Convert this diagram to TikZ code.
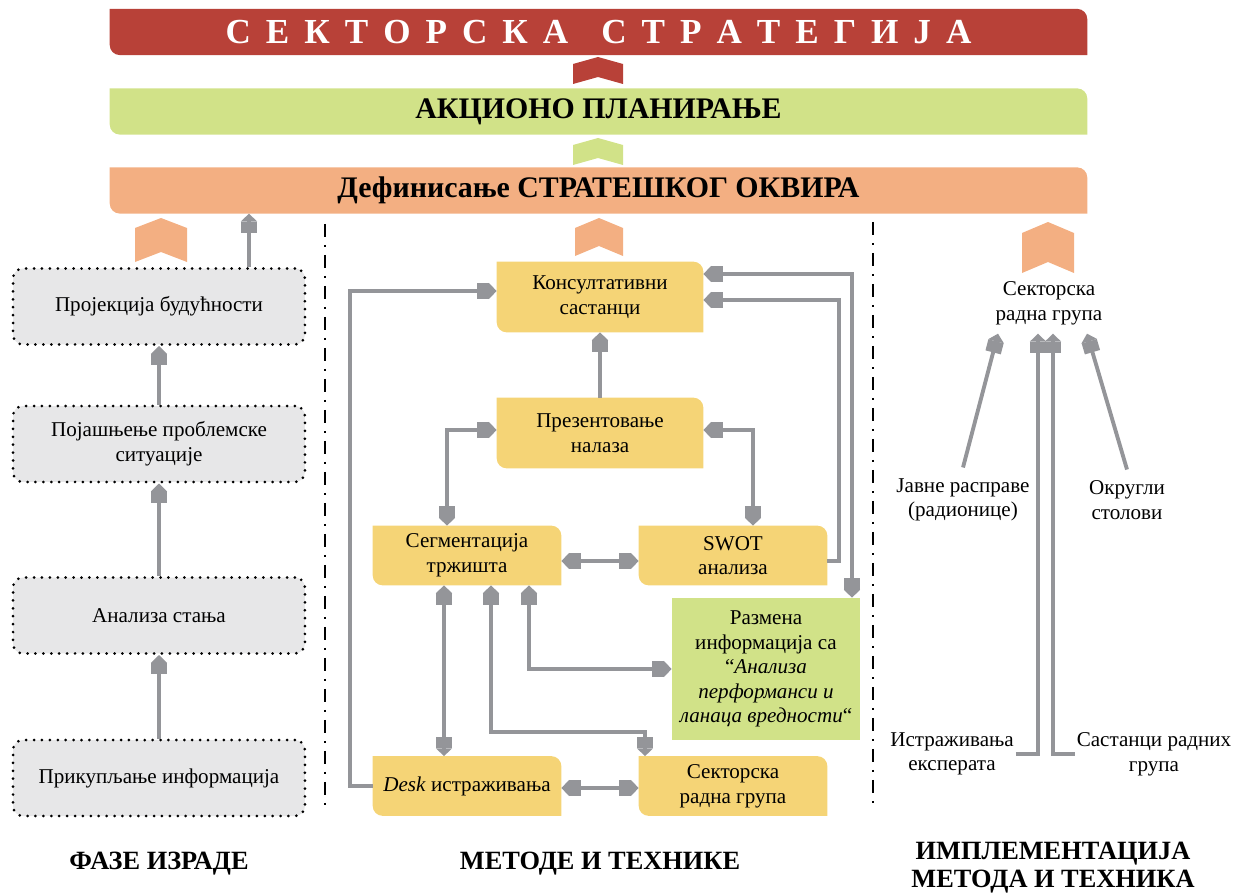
\documentclass[tikz,border=0pt]{standalone}
\usepackage{fontspec}
\setmainfont{Liberation Serif}
\usetikzlibrary{arrows.meta,calc,positioning}
\pgfdeclarelayer{background}
\pgfsetlayers{background,main}

\definecolor{stratred}{RGB}{184,65,56}
\definecolor{plangreen}{RGB}{209,226,136}
\definecolor{frameorange}{RGB}{243,175,130}
\definecolor{methyellow}{RGB}{245,212,118}
\definecolor{phasegray}{RGB}{231,231,232}
\definecolor{arrgray}{RGB}{148,149,153}

\newcommand{\lsp}{\hspace{0.3cm}}
% chevron: centre x, bottom y, half width, height, rise, colour
\newcommand{\chev}[6]{%
  \fill[#6] (#1-#3,#2) -- (#1-#3,#2+#4-#5) -- (#1,#2+#4) -- (#1+#3,#2+#4-#5)
    -- (#1+#3,#2) -- (#1,#2+#5) -- cycle;}
% leaf shaped fill behind a node
\newcommand{\leaffill}[2]{%
  \begin{pgfonlayer}{background}
  \fill[#2] (#1.north west) -- (#1.north) [rounded corners=0.2cm] -- (#1.north east)
    -- (#1.east) [sharp corners] -- (#1.south east) -- (#1.south) [rounded corners=0.2cm]
    -- (#1.south west) -- (#1.west) [sharp corners] -- cycle;
  \end{pgfonlayer}}

\tikzset{
  bar/.style={minimum width=19.54cm, minimum height=0.91cm, inner sep=0pt,
    font=\fontsize{17}{20}\selectfont\bfseries},
  phase/.style={draw=black, fill=phasegray, line width=1.7pt,
    dash pattern=on 0pt off 4.5pt, line cap=round, rounded corners=0.2cm,
    minimum width=5.84cm, minimum height=1.52cm, align=center,
    font=\fontsize{12}{14}\selectfont},
  method/.style={minimum height=1.18cm, inner sep=0pt, align=center,
    font=\fontsize{12}{14}\selectfont},
  lbl/.style={align=center, inner sep=1pt, font=\fontsize{12}{14}\selectfont},
  head/.style={align=center, font=\fontsize{15}{16}\selectfont\bfseries},
  arr/.style={color=arrgray, line width=2.2pt,
    -{Square[length=6.5pt,width=9pt]Triangle[length=4.5pt,width=9pt]}},
  arrboth/.style={arr,
    {Triangle[length=4.5pt,width=9pt]Square[length=6.5pt,width=9pt]}-{Square[length=6.5pt,width=9pt]Triangle[length=4.5pt,width=9pt]}},
  divider/.style={line width=1.6pt, dash pattern=on 0.26cm off 0.16cm on 0.04cm off 0.16cm},
}

\begin{document}
\begin{tikzpicture}[x=0.02cm,y=0.02cm]
    \useasboundingbox (0,0) rectangle (1237,894);

    % bars
    \node[bar, text=white, font=\fontsize{20}{22}\selectfont\bfseries] (strat) at (598.5,862)
      {С\lsp Е\lsp К\lsp Т\lsp О\lsp Р\lsp С\lsp К\lsp А\hspace{0.66cm}С\lsp Т\lsp Р\lsp А\lsp Т\lsp Е\lsp Г\lsp И\lsp Ј\lsp А};
    \node[bar] (akc) at (598.5,782.5) {АКЦИОНО ПЛАНИРАЊЕ};
    \node[bar] (okvir) at (598.5,703.5) {Дефинисање СТРАТЕШКОГ ОКВИРА};
    \leaffill{strat}{stratred}
    \leaffill{akc}{plangreen}
    \leaffill{okvir}{frameorange}

    \chev{598}{810}{25}{27}{7}{stratred}
    \chev{598}{729}{25}{27}{7}{plangreen}
    \chev{161}{632}{26}{44}{10}{frameorange}
    \chev{599}{638}{24}{38}{10}{frameorange}
    \chev{1048}{621}{26}{51}{11}{frameorange}

    \draw[divider] (325,670) -- (325,84);
    \draw[divider] (873,672) -- (873,84);

    % phases
    \node[phase] (proj) at (159,587.5) {Пројекција будућности};
    \node[phase] (pojas) at (159,450) {Појашњење проблемске\\ситуације};
    \node[phase] (anal) at (159,278.5) {Анализа стања};
    \node[phase] (prik) at (159,116) {Прикупљање информација};
    \draw[arr] (prik) -- (anal);
    \draw[arr] (anal) -- (pojas);
    \draw[arr] (pojas) -- (proj);
    \draw[arr] ([xshift=1.8cm]proj.north) -- ([xshift=1.8cm]proj.north |- okvir.south);

    % methods
    \node[method, minimum width=4.12cm, minimum height=1.4cm] (kons) at (600,597) {Консултативни\\састанци};
    \node[method, minimum width=4.12cm, minimum height=1.4cm] (prez) at (600,461) {Презентовање\\налаза};
    \node[method, minimum width=3.76cm] (segm) at (467,338.5) {Сегментација\\тржишта};
    \node[method, minimum width=3.76cm] (swot) at (733,338.5) {SWOT\\анализа};
    \node[method, fill=plangreen, minimum width=3.76cm, minimum height=2.84cm] (razm) at (766,225)
      {Размена\\информација са\\“\textit{Анализа}\\\textit{перформанси и}\\\textit{ланаца вредности}“};
    \node[method, minimum width=3.76cm] (desk) at (467,108) {\textit{Desk} истраживања};
    \node[method, minimum width=3.76cm] (srgm) at (733,108) {Секторска\\радна група};
    \foreach \n in {kons,prez,segm,swot,desk,srgm} {\leaffill{\n}{methyellow}}

    \draw[arr] (prez) -- (kons);
    \draw[arr] (desk.west) -- ++(-23,0) |- ([yshift=0.12cm]kons.west);
    \draw[arrboth] ([yshift=0.06cm]prez.west) -| ([xshift=-0.4cm]segm.north);
    \draw[arrboth] ([yshift=0.06cm]prez.east) -| ([xshift=0.4cm]swot.north);
    \draw[arrboth] ([yshift=-0.11cm]segm.east) -- ([yshift=-0.11cm]swot.west);
    \draw[arrboth] ([yshift=0.46cm]kons.east) -| ([xshift=1.72cm]razm.north);
    \draw[arr] ([yshift=-0.11cm]swot.east) -- ++(12,0) |- ([yshift=-0.06cm]kons.east);
    \draw[arrboth] ([xshift=-0.46cm]segm.south) -- ([xshift=-0.46cm]segm.south |- desk.north);
    \draw[arrboth] ([xshift=0.48cm]segm.south) -- ++(0,-147) -| ([xshift=-1.76cm]srgm.north);
    \draw[arrboth] ([xshift=1.24cm]segm.south) |- (razm.west);
    \draw[arrboth] ([yshift=-0.04cm]desk.east) -- ([yshift=-0.04cm]srgm.west);

    % implementation
    \node[lbl] (srgr) at (1049,591) {Секторска\\радна група};
    \node[lbl] (javne) at (963,394) {Јавне расправе\\(радионице)};
    \node[lbl] (okr) at (1127,394) {Округли\\столови};
    \node[lbl] (istr) at (952,140) {Истраживања\\експерата};
    \node[lbl] (sast) at (1154,140) {Састанци радних\\група};
    \draw[arr] ([yshift=0.18cm]javne.north) -- ([xshift=-1.02cm,yshift=-0.14cm]srgr.south);
    \draw[arr] ([yshift=0.18cm]okr.north) -- ([xshift=0.76cm,yshift=-0.14cm]srgr.south);
    \draw[arr] (istr.east) -| ([xshift=-0.22cm,yshift=-0.14cm]srgr.south);
    \draw[arr] (sast.west) -| ([xshift=0.08cm,yshift=-0.14cm]srgr.south);

    % headings
    \node[head] (fazeh) at (159,30) {ФАЗЕ ИЗРАДЕ};
    \node[head] (metodh) at (600,30) {МЕТОДЕ И ТЕХНИКЕ};
    \node[head] (implh) at (1053,26) {ИМПЛЕМЕНТАЦИЈА\\МЕТОДА И ТЕХНИКА};
\end{tikzpicture}
\end{document}
